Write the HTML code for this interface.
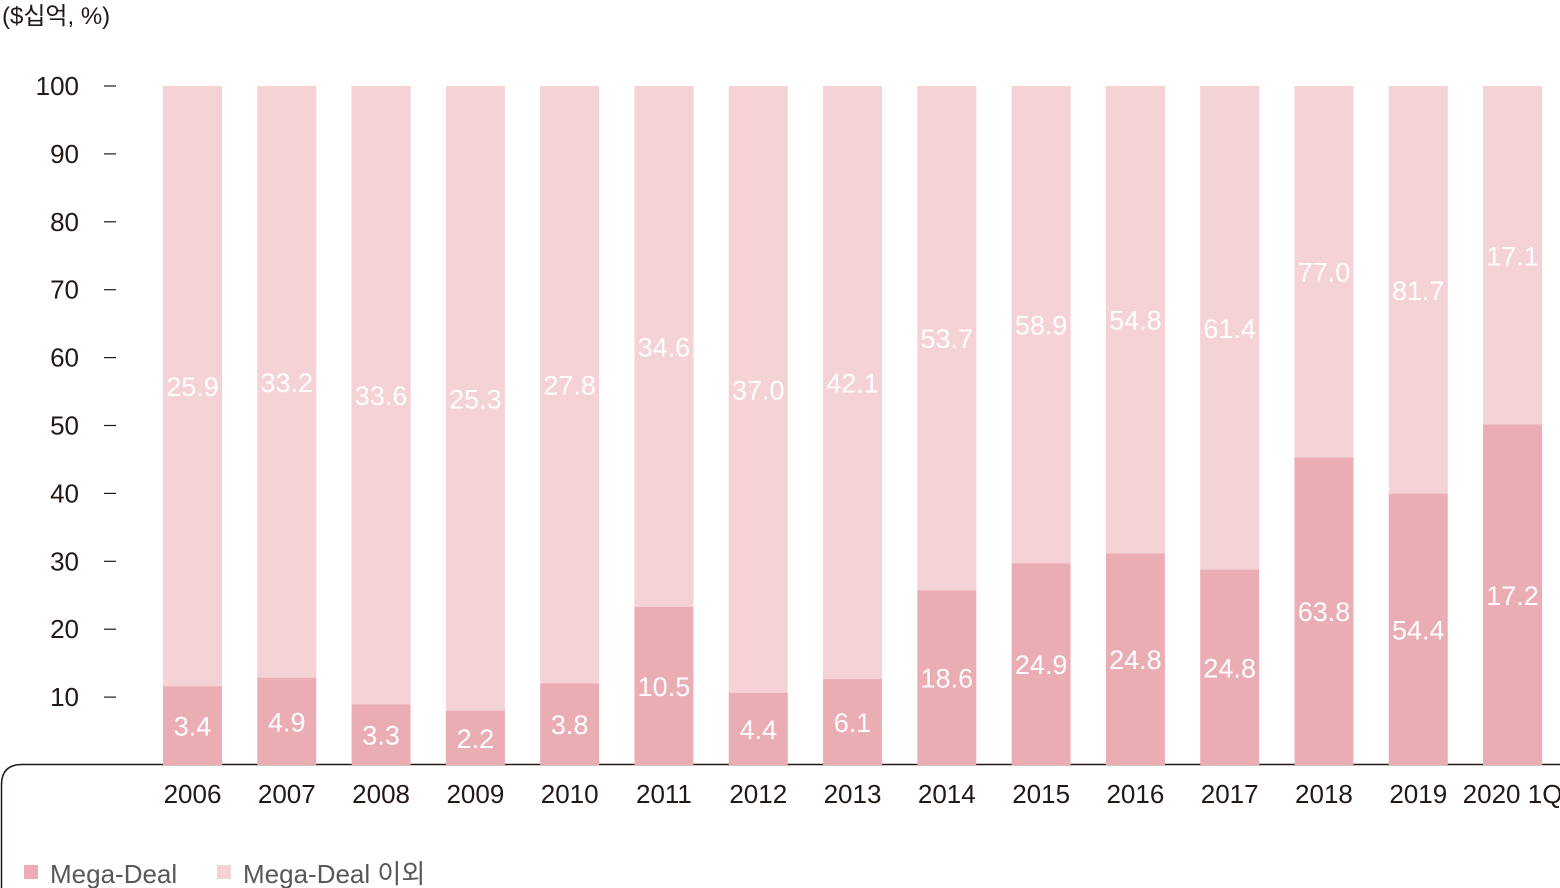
<!DOCTYPE html>
<html><head><meta charset="utf-8"><style>
html,body{margin:0;padding:0;background:#fff;}
svg{display:block;font-family:"Liberation Sans","Noto Sans CJK KR",sans-serif;}
</style></head><body>
<svg id="chart" width="1560" height="888" viewBox="0 0 1560 888">
<text x="2" y="24" font-size="24" fill="#231815">($십억, %)</text>
<path d="M1.5 888 V785 Q1.5 764.5 22 764.5 H1560" fill="none" stroke="#231815" stroke-width="1.5"/>
<g id="yaxis"></g><g id="bars"></g><g id="xlabels"></g>
<g>
<rect x="24" y="865" width="14" height="14" fill="#ebadb4"/>
<text x="50" y="883" font-size="26" fill="#595757">Mega-Deal</text>
<rect x="217" y="865" width="14" height="14" fill="#f4d2d5"/>
<text x="243" y="883" font-size="26" fill="#595757">Mega-Deal 이외</text>
</g>
</svg>
<script>
const categories=["2006","2007","2008","2009","2010","2011","2012","2013","2014","2015","2016","2017","2018","2019","2020 1Q"];
const megaValues=[3.4,4.9,3.3,2.2,3.8,10.5,4.4,6.1,18.6,24.9,24.8,24.8,63.8,54.4,17.2];
const otherValues=[25.9,33.2,33.6,25.3,27.8,34.6,37.0,42.1,53.7,58.9,54.8,61.4,77.0,81.7,17.1];
const yTicks=[10,20,30,40,50,60,70,80,90,100];
const NS="http://www.w3.org/2000/svg";
const y=v=>765-v*6.79;
const xc=i=>192.5+i*94.29;
const BW=59;
function mk(tag,attrs,parent,txt){const e=document.createElementNS(NS,tag);for(const k in attrs)e.setAttribute(k,attrs[k]);if(txt!==undefined)e.textContent=txt;parent.appendChild(e);return e;}
const ya=document.getElementById('yaxis'),bg=document.getElementById('bars'),xl=document.getElementById('xlabels');
yTicks.forEach(t=>{
  const tx=mk('text',{x:79,y:y(t)+9,'font-size':26,'text-anchor':'end',fill:'#231815'},ya,String(t));
  
  
  const ln=mk('line',{x1:104,x2:116,y1:y(t),y2:y(t),stroke:'#231815','stroke-width':1.2},ya);
  
  
});
categories.forEach((c,i)=>{
  const m=megaValues[i],o=otherValues[i],share=m/(m+o)*100;
  const x0=xc(i)-BW/2;
  const ro=mk('rect',{x:x0,y:y(100),width:BW,height:y(share)-y(100),fill:'#f4d2d5'},bg);
  
  
  const rm=mk('rect',{x:x0,y:y(share),width:BW,height:y(0)-y(share),fill:'#ebadb4'},bg);
  
  
  const lo=mk('text',{x:xc(i),y:(y(100)+y(share))/2+10,'font-size':27,'text-anchor':'middle',fill:'#fff'},bg,o.toFixed(1));
  
  
  const lm=mk('text',{x:xc(i),y:(y(share)+y(0))/2+10,'font-size':27,'text-anchor':'middle',fill:'#fff'},bg,m.toFixed(1));
  
  
  const xt=mk('text',{x:xc(i),y:803,'font-size':26,'text-anchor':'middle',fill:'#231815'},xl,c);
  
  
});
</script>
</body></html>
